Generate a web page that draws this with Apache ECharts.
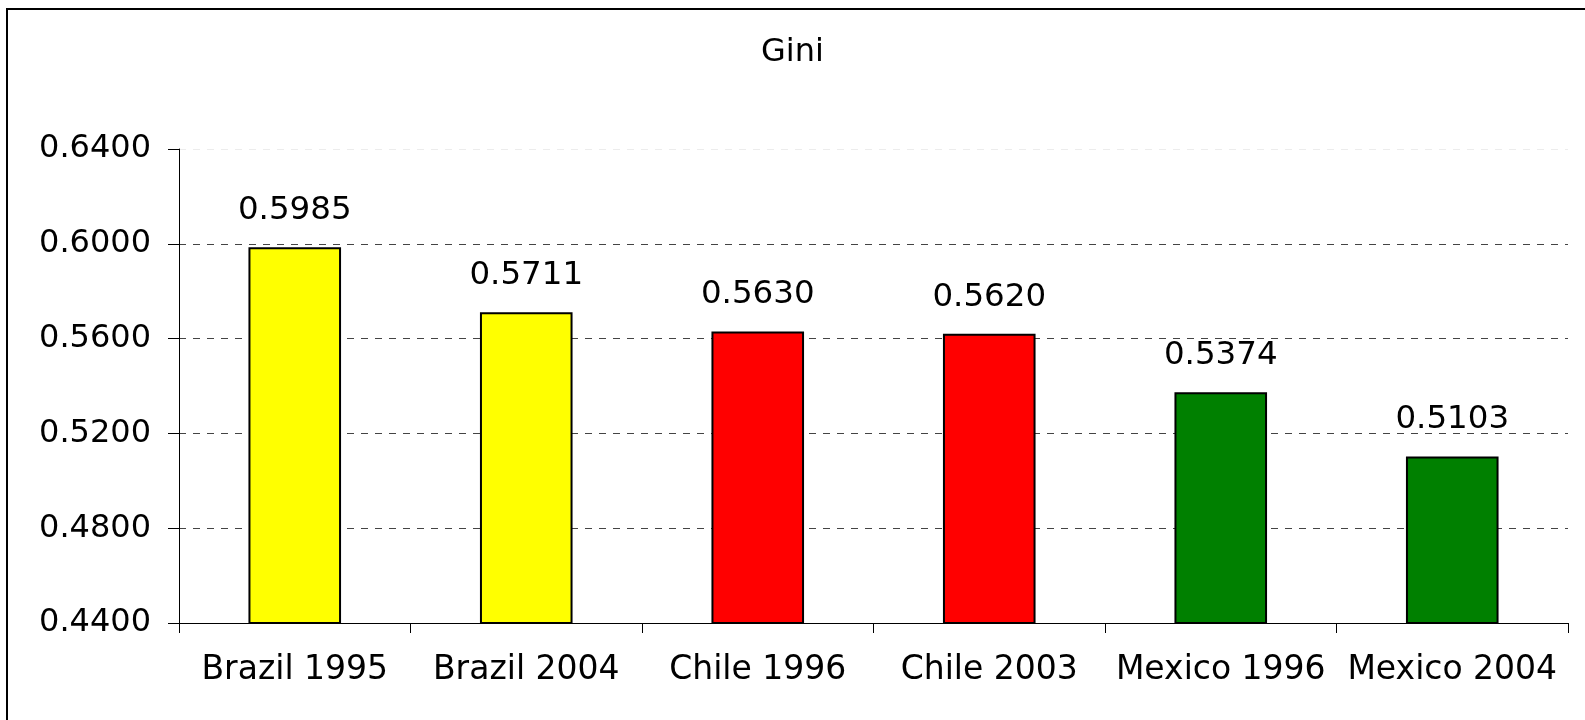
<!DOCTYPE html>
<html>
<head>
<meta charset="utf-8">
<script src="https://cdn.jsdelivr.net/npm/echarts@6/dist/echarts.min.js"></script>
<style>
html,body{margin:0;padding:0;background:#fff;}
#chart{width:1585px;height:720px;}
</style>
</head>
<body>
<div id="chart"></div>
<script>
const categories = ['Brazil 1995', 'Brazil 2004', 'Chile 1996', 'Chile 2003', 'Mexico 1996', 'Mexico 2004'];
const giniValues = [0.5985, 0.5711, 0.5630, 0.5620, 0.5374, 0.5103];
const barColors = ['#ffff00', '#ffff00', '#ff0000', '#ff0000', '#008000', '#008000'];
const yMin = 0.44, yMax = 0.64, yStep = 0.04;

const chart = echarts.init(document.getElementById('chart'));
const font = '"DejaVu Sans", sans-serif';
chart.setOption({
  animation: false,
  backgroundColor: '#fff',
  title: {
    text: 'Gini', left: 'center', top: 32,
    textStyle: { fontFamily: font, fontSize: 32, fontWeight: 'normal', color: '#000' }
  },
  graphic: [{
    type: 'rect', shape: { x: 7, y: 9, width: 1600, height: 730 },
    style: { fill: 'none', stroke: '#000', lineWidth: 2 }, silent: true
  }],
  grid: { left: 179, right: 17, top: 149, bottom: 97 },
  xAxis: {
    type: 'category', data: categories,
    axisLine: { lineStyle: { color: '#000', width: 1 } },
    axisTick: { show: true, alignWithLabel: false, length: 10, lineStyle: { color: '#000' } },
    axisLabel: { fontFamily: font, fontSize: 33, color: '#000', margin: 31, interval: 0 }
  },
  yAxis: {
    type: 'value', min: yMin, max: yMax, interval: yStep,
    axisLine: { show: true, lineStyle: { color: '#000', width: 1 } },
    axisTick: { show: true, length: 11, lineStyle: { color: '#000' } },
    axisLabel: { fontFamily: font, fontSize: 32, color: '#000', margin: 28,
      formatter: v => v.toFixed(4) },
    splitLine: { show: true, lineStyle: { color: ['#444', '#444', '#444', '#444', '#444', '#ececec'], type: [7, 7], width: 1 } }
  },
  series: [{
    type: 'bar',
    data: giniValues.map((v, i) => ({ value: v, itemStyle: { color: barColors[i] } })),
    barWidth: '40%',
    itemStyle: { borderColor: '#000', borderWidth: 2 },
    label: { show: true, position: 'top', distance: 20, fontFamily: font, fontSize: 32.5, color: '#000',
      formatter: p => p.value.toFixed(4) }
  }]
});
</script>
</body>
</html>
